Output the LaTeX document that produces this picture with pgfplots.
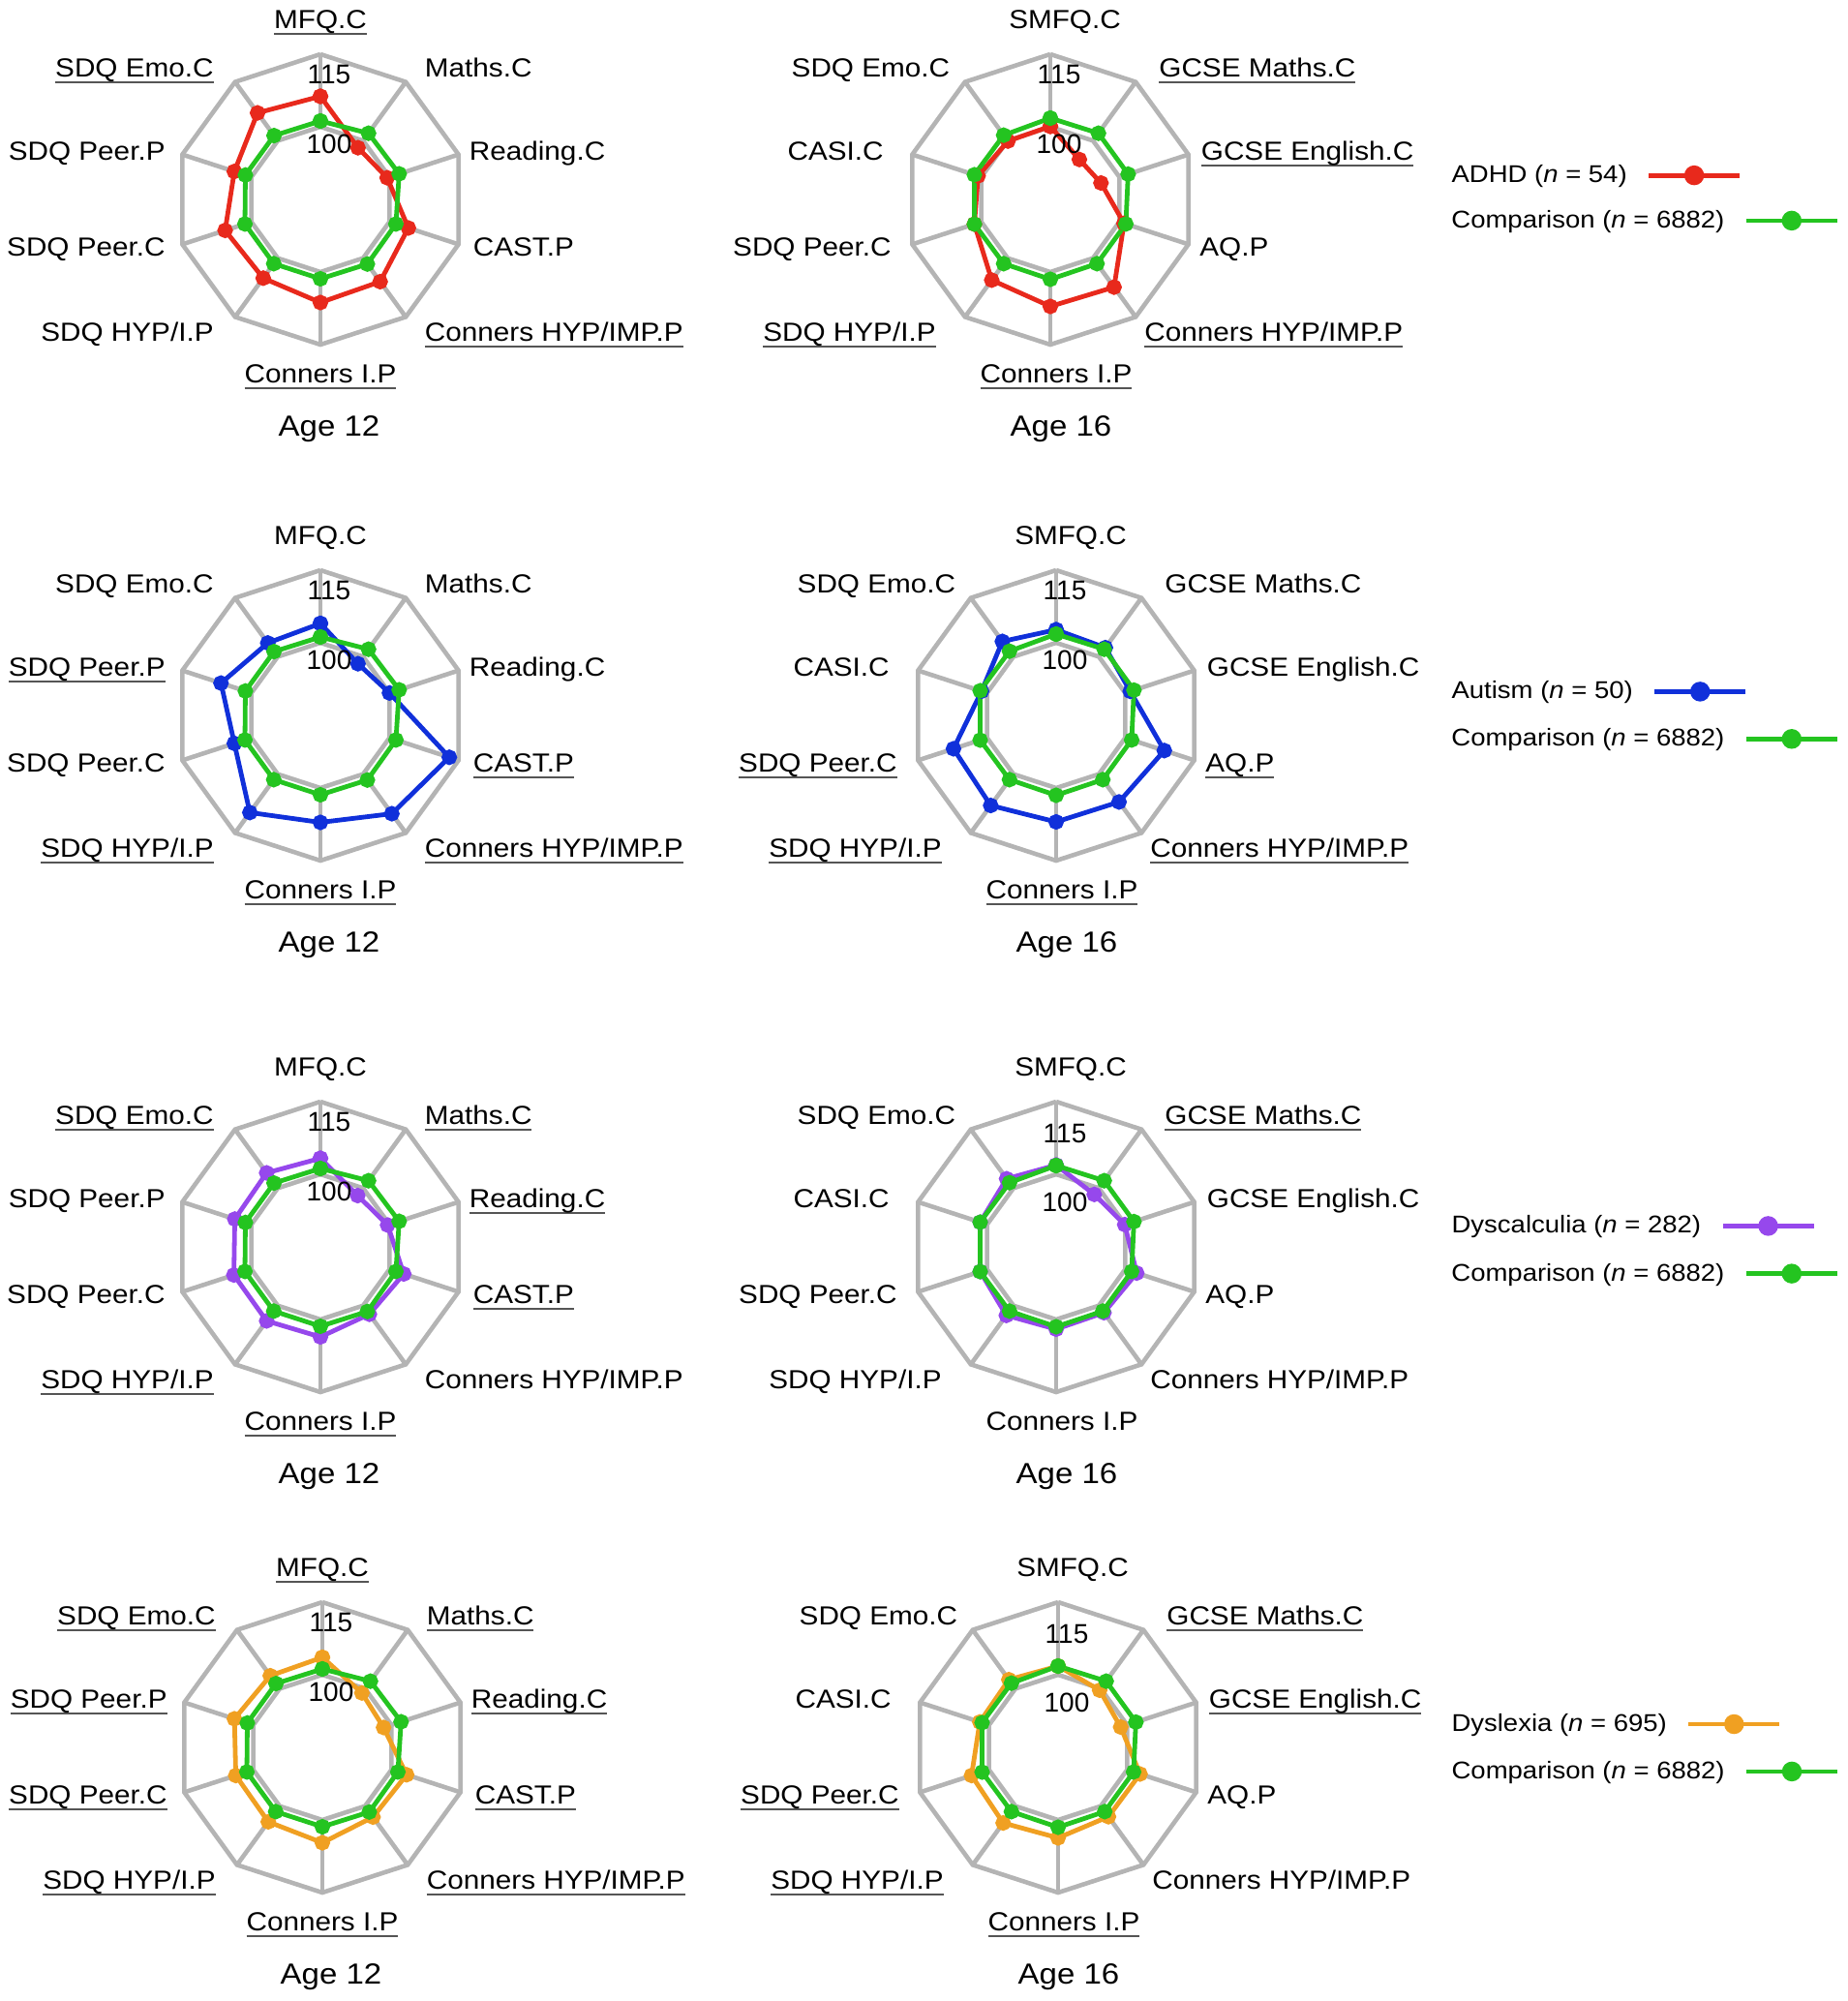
\documentclass[border=0pt]{standalone}
\usepackage{pgfplots}
\pgfplotsset{compat=1.18}
\usepackage{pgfplotstable}
\usepackage{fontspec}
\setmainfont{Liberation Sans}[FakeStretch=1.1]
\newfontfamily\tickfam{Liberation Sans}

\definecolor{gridgray}{RGB}{180,180,180}
\definecolor{cred}{RGB}{232,41,28}
\definecolor{cgreen}{RGB}{36,196,32}
\definecolor{cblue}{RGB}{16,48,218}
\definecolor{cpurple}{RGB}{150,72,236}
\definecolor{corange}{RGB}{240,160,34}
\definecolor{ulgray}{RGB}{85,85,85}

\newcommand{\labfont}{\fontsize{13.5}{16}\selectfont}
\newcommand{\agefont}{\fontsize{15}{18}\selectfont}
\newcommand{\tickfont}{\tickfam\fontsize{14}{16}\selectfont}
\newcommand{\legfont}{\fontsize{12.5}{15}\selectfont}
% underlined label
\newcommand{\und}[1]{\setbox0\hbox{#1}\rlap{\textcolor{ulgray}{\rule[-3.3pt]{\wd0}{0.9pt}}}\box0}

% scores: angle a (deg), value v; centre of each radar = 85, rings at 100 and 115
\pgfplotstableread{
a v
90 115
54 115
18 115
-18 115
-54 115
-90 115
-126 115
-162 115
162 115
126 115
90 115
}\ringout
\pgfplotstableread{
a v
90 100
54 100
18 100
-18 100
-54 100
-90 100
-126 100
-162 100
162 100
126 100
90 100
}\ringin

% comparison group (n = 6882)
\pgfplotstableread{
a v
90 101.2
54 101.9
18 102.1
-18 101.4
-54 101.5
-90 101.4
-126 101.4
-162 101.4
162 101.3
126 101.3
90 101.2
}\cmpA
\pgfplotstableread{
a v
90 101.8
54 101.9
18 101.9
-18 101.4
-54 101.4
-90 101.5
-126 101.4
-162 101.5
162 101.5
126 101.4
90 101.8
}\cmpB

% ADHD
\pgfplotstableread{
a v
90 106.3
54 98.2
18 99.5
-18 104.1
-54 106.0
-90 106.3
-126 105.1
-162 105.7
162 103.7
126 107.1
90 106.3
}\adhdA
\pgfplotstableread{
a v
90 100.1
54 95.2
18 96.0
-18 101.0
-54 107.4
-90 107.1
-126 105.6
-162 101.5
162 100.7
126 99.9
90 100.1
}\adhdB

% Autism
\pgfplotstableread{
a v
90 104.0
54 98.2
18 100.0
-18 113.0
-54 110.1
-90 107.1
-126 109.8
-162 103.7
162 106.6
126 103.5
90 104.0
}\autA
\pgfplotstableread{
a v
90 102.7
54 102.3
18 101.1
-18 108.5
-54 107.1
-90 107.0
-126 108.0
-162 107.3
162 101.2
126 103.9
90 102.7
}\autB

% Dyscalculia
\pgfplotstableread{
a v
90 103.3
54 98.1
18 99.6
-18 103.1
-54 102.2
-90 103.6
-126 103.9
-162 103.8
162 103.6
126 103.9
90 103.3
}\dyscA
\pgfplotstableread{
a v
90 101.9
54 98.4
18 99.9
-18 102.5
-54 101.8
-90 102.0
-126 102.5
-162 101.5
162 101.5
126 102.4
90 101.9
}\dyscB

% Dyslexia
\pgfplotstableread{
a v
90 103.6
54 98.9
18 98.3
-18 103.3
-54 102.8
-90 104.7
-126 104.0
-162 103.8
162 104.1
126 103.3
90 103.6
}\dyslA
\pgfplotstableread{
a v
90 101.8
54 99.6
18 98.6
-18 102.8
-54 102.7
-90 103.7
-126 104.3
-162 103.8
162 102.0
126 102.3
90 101.8
}\dyslB

\pgfplotsset{
  table/radial/.style={
    x expr={(\thisrow{v}-85)*cos(\thisrow{a})},
    y expr={(\thisrow{v}-85)*sin(\thisrow{a})}},
  radar/.style={
    scale only axis, width=150pt, height=150pt,
    xmin=-30, xmax=30, ymin=-30, ymax=30,
    axis lines=none, clip=false, anchor=center,
    legend plot pos=right, legend cell align=left,
    legend style={draw=none, fill=none, inner sep=0pt, column sep=10pt,
      font=\legfont, nodes={inner sep=0pt}},
    legend image code/.code={
      \draw[##1, mark size=3.9pt, mark repeat=2, mark phase=2]
        plot coordinates {(0pt,0pt) (23.5pt,0pt) (47pt,0pt)};},
  },
  gridline/.style={draw=gridgray, line width=2.3pt, line join=miter, mark=none, forget plot},
  series/.style={line width=2.4pt, mark=*, mark size=2.8pt, mark options={solid}},
}
\tikzset{lab/.style={font=\labfont, inner sep=0pt}}

\newcommand{\gridlines}{%
  \addplot[gridline] table[radial] {\ringout};
  \addplot[gridline] table[radial] {\ringin};
  \pgfplotsinvokeforeach{90,54,18,-18,-54,-90,-126,-162,162,126}{%
    \addplot[gridline] table[radial, row sep=\\] {a v\\ ##1 100\\ ##1 115\\};
  }%
}
% label positions around an age-12 radar (left column)
\newcommand{\pN}[1]{\node[lab,anchor=base] at (axis cs:0,35.3) {#1};}
\newcommand{\pNE}[1]{\node[lab,anchor=base west] at (axis cs:21.5,25.3) {#1};}
\newcommand{\pE}[1]{\node[lab,anchor=base west] at (axis cs:30.7,8.1) {#1};}
\newcommand{\pSE}[1]{\node[lab,anchor=base west] at (axis cs:31.5,-11.7) {#1};}
\newcommand{\pSSE}[1]{\node[lab,anchor=base west] at (axis cs:21.5,-29.3) {#1};}
\newcommand{\pS}[1]{\node[lab,anchor=base] at (axis cs:0,-37.9) {#1};}
\newcommand{\pSSW}[1]{\node[lab,anchor=base east] at (axis cs:-22,-29.3) {#1};}
\newcommand{\pSW}[1]{\node[lab,anchor=base east] at (axis cs:-32,-11.7) {#1};}
\newcommand{\pW}[1]{\node[lab,anchor=base east] at (axis cs:-32,8.1) {#1};}
\newcommand{\pNW}[1]{\node[lab,anchor=base east] at (axis cs:-22,25.3) {#1};}
% label positions around an age-16 radar (right column)
\newcommand{\qN}[1]{\node[lab,anchor=base] at (axis cs:3,35.3) {#1};}
\newcommand{\qNE}[1]{\node[lab,anchor=base west] at (axis cs:22.4,25.3) {#1};}
\newcommand{\qE}[1]{\node[lab,anchor=base west] at (axis cs:31.1,8.1) {#1};}
\newcommand{\qSE}[1]{\node[lab,anchor=base west] at (axis cs:30.8,-11.7) {#1};}
\newcommand{\qSSE}[1]{\node[lab,anchor=base west] at (axis cs:19.4,-29.3) {#1};}
\newcommand{\qS}[1]{\node[lab,anchor=base] at (axis cs:1.2,-37.9) {#1};}
\newcommand{\qSSW}[1]{\node[lab,anchor=base east] at (axis cs:-23.6,-29.3) {#1};}
\newcommand{\qSW}[1]{\node[lab,anchor=base east] at (axis cs:-32.8,-11.7) {#1};}
\newcommand{\qW}[1]{\node[lab,anchor=base east] at (axis cs:-34.4,8.1) {#1};}
\newcommand{\qNW}[1]{\node[lab,anchor=base east] at (axis cs:-20.7,25.3) {#1};}
\newcommand{\age}[2]{\node[font=\agefont,inner sep=0pt,anchor=base] at (axis cs:#1,-48.95) {#2};}
\newcommand{\ticks}[2]{%
  \node[font=\tickfont,inner sep=0pt,anchor=base] at (axis cs:1.8,#1) {115};
  \node[font=\tickfont,inner sep=0pt,anchor=base] at (axis cs:1.8,#2) {100};}

\begin{document}
\begin{tikzpicture}
\useasboundingbox (0,0) rectangle (954pt,-1033.5pt);

% ---------- ADHD ----------
\begin{axis}[radar, at={(165.5pt,-103pt)}, legend style={at={(4.394,0.583)}, anchor=west}]
\gridlines
\addplot[series, color=cred] table[radial] {\adhdA};
\addlegendentry{ADHD (\textit{n} = 54)}
\addplot[series, color=cgreen, forget plot] table[radial] {\cmpA};
\ticks{24.0}{9.6}
\pN{\und{MFQ.C}} \pNE{Maths.C} \pE{Reading.C} \pSE{CAST.P} \pSSE{\und{Conners HYP/IMP.P}}
\pS{\und{Conners I.P}} \pSSW{SDQ HYP/I.P} \pSW{SDQ Peer.C} \pW{SDQ Peer.P} \pNW{\und{SDQ Emo.C}}
\age{1.8}{Age 12}
\end{axis}

\begin{axis}[radar, at={(542.5pt,-103pt)}, legend style={at={(1.88,0.427)}, anchor=west}]
\gridlines
\addplot[series, color=cred, forget plot] table[radial] {\adhdB};
\addplot[series, color=cgreen] table[radial] {\cmpB};
\addlegendentry{Comparison (\textit{n} = 6882)}
\ticks{24.0}{9.6}
\qN{SMFQ.C} \qNE{\und{GCSE Maths.C}} \qE{\und{GCSE English.C}} \qSE{AQ.P} \qSSE{\und{Conners HYP/IMP.P}}
\qS{\und{Conners I.P}} \qSSW{\und{SDQ HYP/I.P}} \qSW{SDQ Peer.C} \qW{CASI.C} \qNW{SDQ Emo.C}
\age{2.2}{Age 16}
\end{axis}

% ---------- Autism ----------
\begin{axis}[radar, at={(165.5pt,-369.5pt)}, legend style={at={(4.394,0.582)}, anchor=west}]
\gridlines
\addplot[series, color=cblue] table[radial] {\autA};
\addlegendentry{Autism (\textit{n} = 50)}
\addplot[series, color=cgreen, forget plot] table[radial] {\cmpA};
\ticks{24.0}{9.6}
\pN{MFQ.C} \pNE{Maths.C} \pE{Reading.C} \pSE{\und{CAST.P}} \pSSE{\und{Conners HYP/IMP.P}}
\pS{\und{Conners I.P}} \pSSW{\und{SDQ HYP/I.P}} \pSW{SDQ Peer.C} \pW{\und{SDQ Peer.P}} \pNW{SDQ Emo.C}
\age{1.8}{Age 12}
\end{axis}

\begin{axis}[radar, at={(545.5pt,-369.5pt)}, legend style={at={(1.86,0.419)}, anchor=west}]
\gridlines
\addplot[series, color=cblue, forget plot] table[radial] {\autB};
\addplot[series, color=cgreen] table[radial] {\cmpB};
\addlegendentry{Comparison (\textit{n} = 6882)}
\ticks{24.0}{9.6}
\qN{SMFQ.C} \qNE{GCSE Maths.C} \qE{GCSE English.C} \qSE{\und{AQ.P}} \qSSE{\und{Conners HYP/IMP.P}}
\qS{\und{Conners I.P}} \qSSW{\und{SDQ HYP/I.P}} \qSW{\und{SDQ Peer.C}} \qW{CASI.C} \qNW{SDQ Emo.C}
\age{2.2}{Age 16}
\end{axis}

% ---------- Dyscalculia ----------
\begin{axis}[radar, at={(165.5pt,-644pt)}, legend style={at={(4.394,0.572)}, anchor=west}]
\gridlines
\addplot[series, color=cpurple] table[radial] {\dyscA};
\addlegendentry{Dyscalculia (\textit{n} = 282)}
\addplot[series, color=cgreen, forget plot] table[radial] {\cmpA};
\ticks{24.0}{9.6}
\pN{MFQ.C} \pNE{\und{Maths.C}} \pE{\und{Reading.C}} \pSE{\und{CAST.P}} \pSSE{Conners HYP/IMP.P}
\pS{\und{Conners I.P}} \pSSW{\und{SDQ HYP/I.P}} \pSW{SDQ Peer.C} \pW{SDQ Peer.P} \pNW{\und{SDQ Emo.C}}
\age{1.8}{Age 12}
\end{axis}

\begin{axis}[radar, at={(545.5pt,-644pt)}, legend style={at={(1.86,0.408)}, anchor=west}]
\gridlines
\addplot[series, color=cpurple, forget plot] table[radial] {\dyscB};
\addplot[series, color=cgreen] table[radial] {\cmpB};
\addlegendentry{Comparison (\textit{n} = 6882)}
\ticks{21.6}{7.4}
\qN{SMFQ.C} \qNE{\und{GCSE Maths.C}} \qE{GCSE English.C} \qSE{AQ.P} \qSSE{Conners HYP/IMP.P}
\qS{Conners I.P} \qSSW{SDQ HYP/I.P} \qSW{SDQ Peer.C} \qW{CASI.C} \qNW{SDQ Emo.C}
\age{2.2}{Age 16}
\end{axis}

% ---------- Dyslexia ----------
\begin{axis}[radar, at={(166.5pt,-902.5pt)}, legend style={at={(4.387,0.58)}, anchor=west}]
\gridlines
\addplot[series, color=corange] table[radial] {\dyslA};
\addlegendentry{Dyslexia (\textit{n} = 695)}
\addplot[series, color=cgreen, forget plot] table[radial] {\cmpA};
\ticks{24.0}{9.6}
\pN{\und{MFQ.C}} \pNE{\und{Maths.C}} \pE{\und{Reading.C}} \pSE{\und{CAST.P}} \pSSE{\und{Conners HYP/IMP.P}}
\pS{\und{Conners I.P}} \pSSW{\und{SDQ HYP/I.P}} \pSW{\und{SDQ Peer.C}} \pW{\und{SDQ Peer.P}} \pNW{\und{SDQ Emo.C}}
\age{1.8}{Age 12}
\end{axis}

\begin{axis}[radar, at={(546.5pt,-902.5pt)}, legend style={at={(1.854,0.417)}, anchor=west}]
\gridlines
\addplot[series, color=corange, forget plot] table[radial] {\dyslB};
\addplot[series, color=cgreen] table[radial] {\cmpB};
\addlegendentry{Comparison (\textit{n} = 6882)}
\ticks{21.6}{7.4}
\qN{SMFQ.C} \qNE{\und{GCSE Maths.C}} \qE{\und{GCSE English.C}} \qSE{AQ.P} \qSSE{Conners HYP/IMP.P}
\qS{\und{Conners I.P}} \qSSW{\und{SDQ HYP/I.P}} \qSW{\und{SDQ Peer.C}} \qW{CASI.C} \qNW{SDQ Emo.C}
\age{2.2}{Age 16}
\end{axis}
\end{tikzpicture}
\end{document}
